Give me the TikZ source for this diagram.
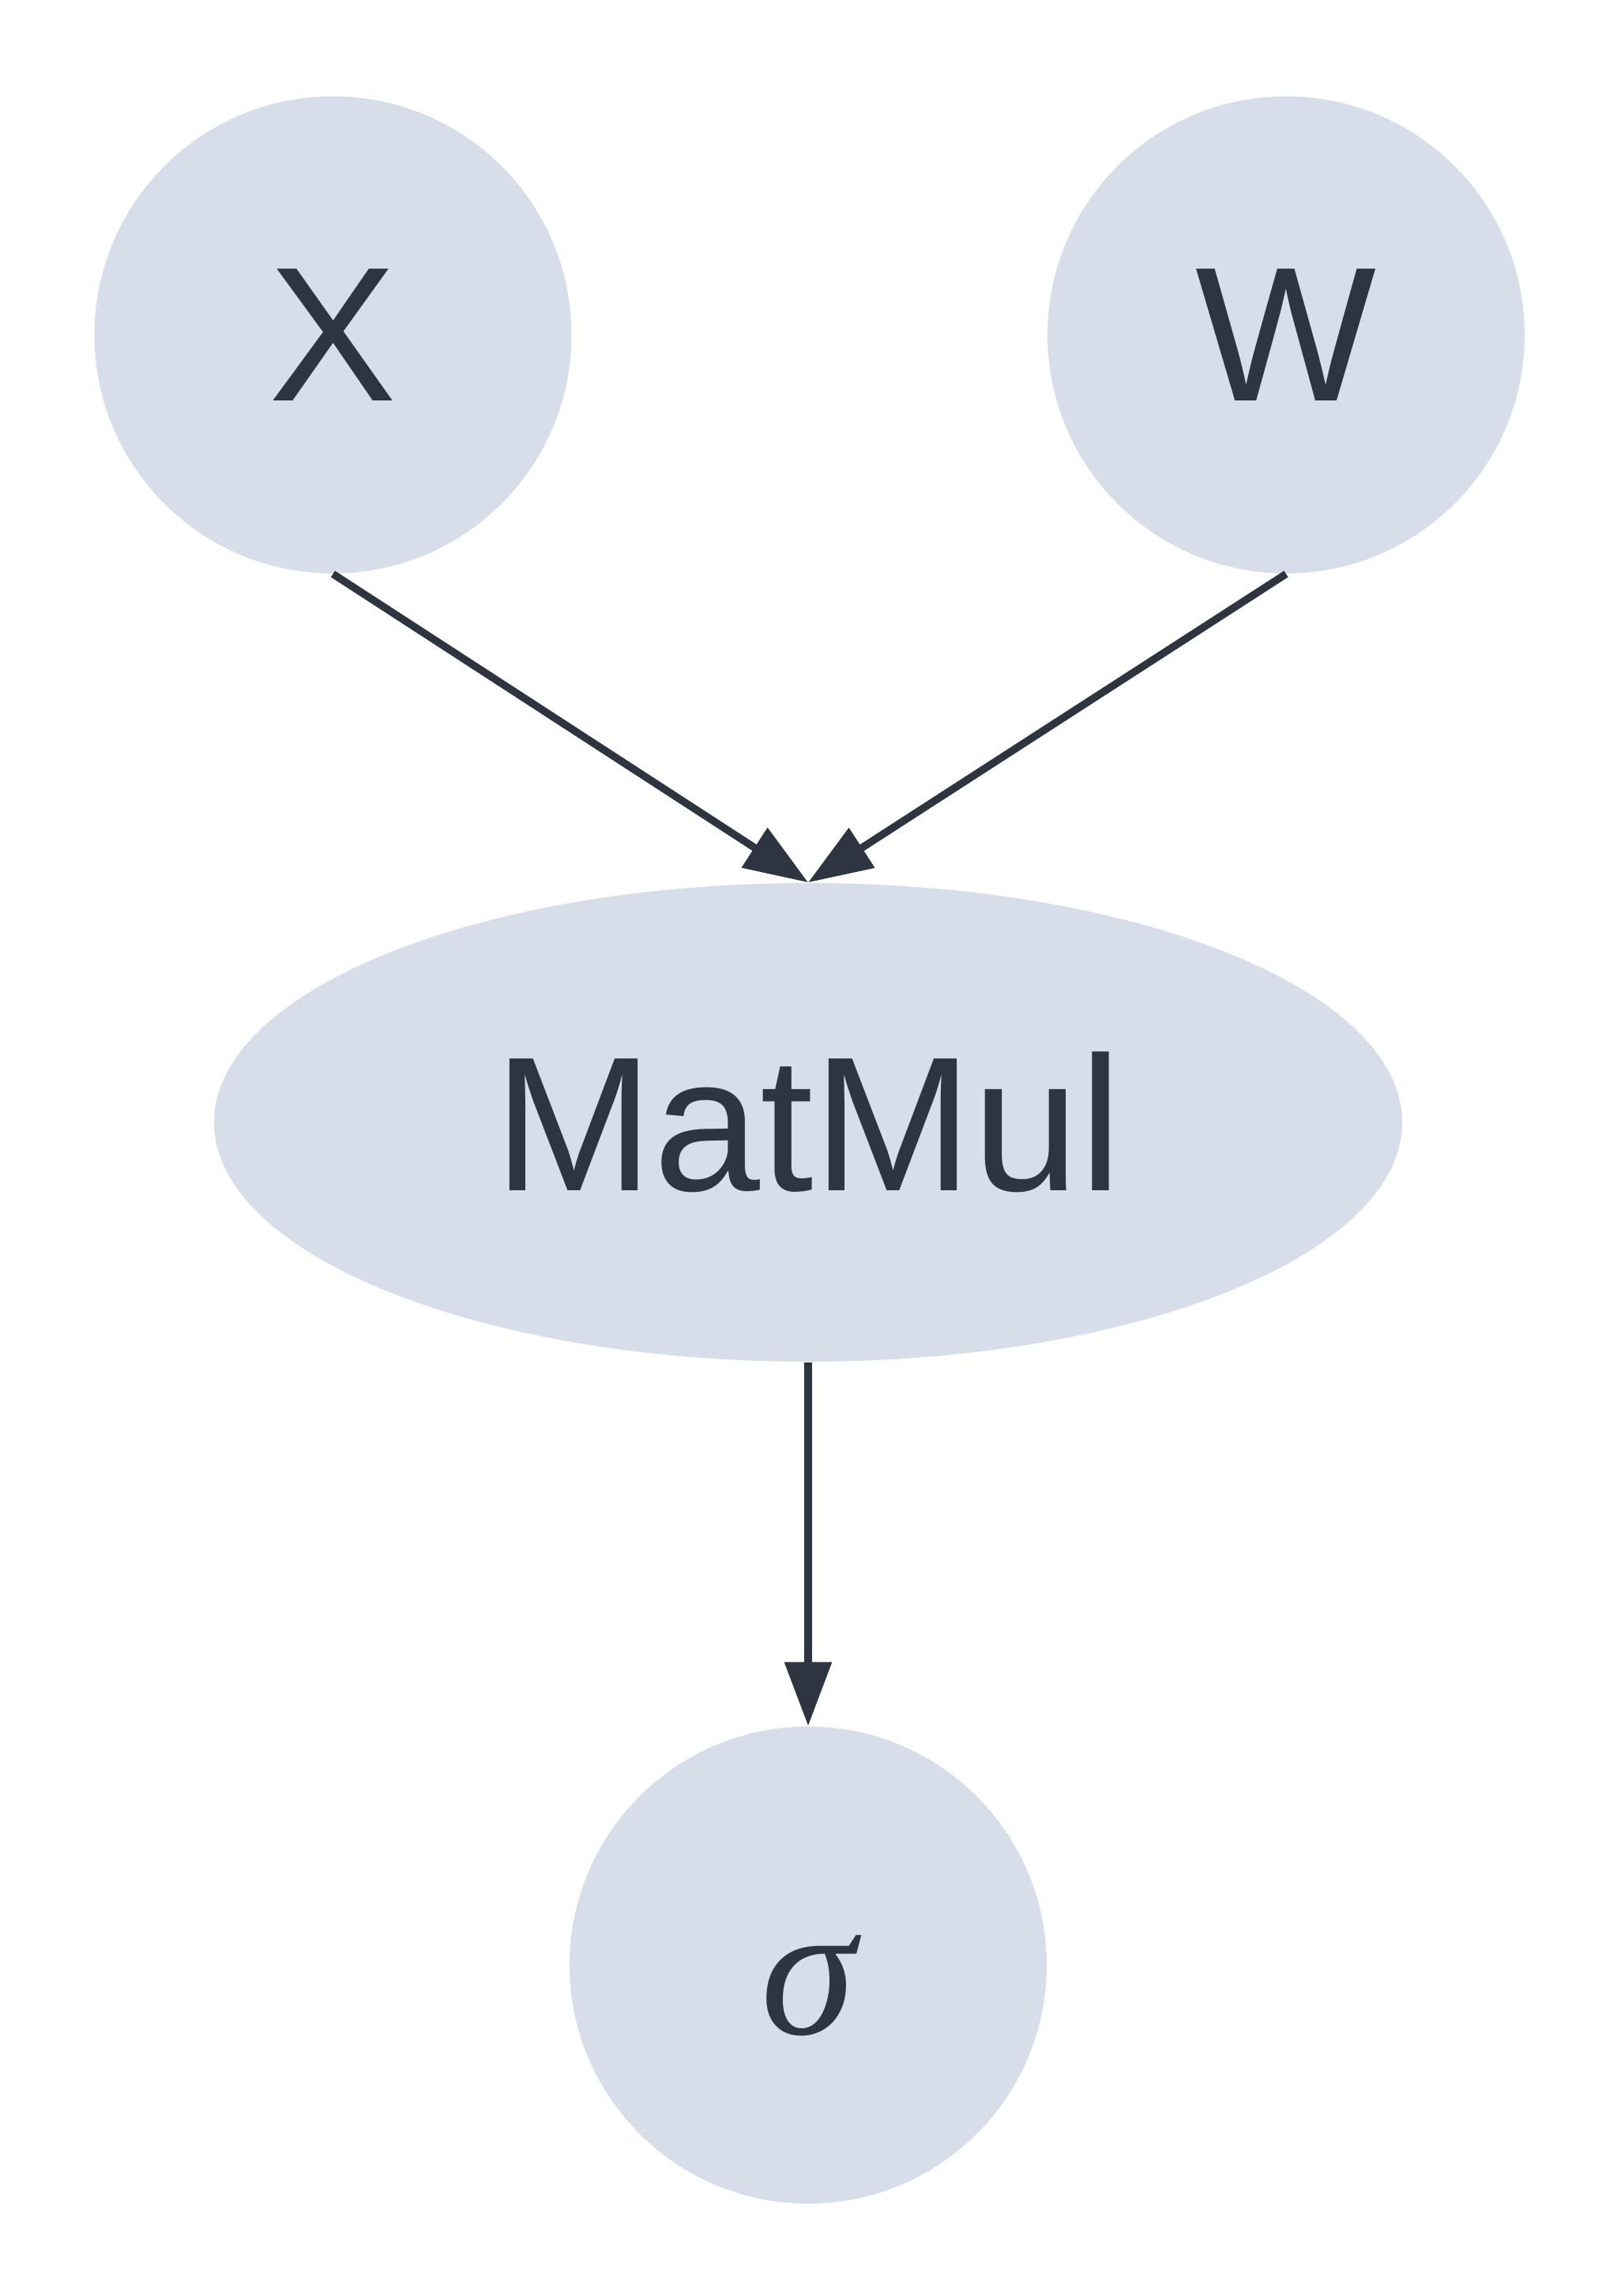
\documentclass[tikz,border=0pt]{standalone}
\usepackage{fontspec}
\setmainfont{Liberation Sans}
\newfontfamily\greekserif{Liberation Serif}
\usetikzlibrary{arrows.meta,shapes.geometric}
\definecolor{nodefill}{HTML}{D8DEE9}
\definecolor{ink}{HTML}{2E3440}
\begin{document}
\begin{tikzpicture}[
  base/.style={fill=nodefill, draw=none, inner sep=0pt, text=ink, font=\fontsize{69pt}{72pt}\selectfont},
  circnode/.style={base, circle, minimum size=6.04cm},
  ellnode/.style={base, ellipse, minimum width=15.04cm, minimum height=6.06cm},
  edge/.style={draw=ink, line width=0.095cm, -{Triangle[length=0.81cm,width=0.58cm]}}
]
\useasboundingbox (0,0) rectangle (20.51,-29.07);
\node[circnode] (x) at (4.215,-4.24) {X};
\node[circnode] (w) at (16.28,-4.24) {W};
\node[ellnode] (m) at (10.23,-14.21) {MatMul};
\node[circnode, text height=1.74cm, text depth=0pt] (s) at (10.23,-24.88) {\greekserif\itshape σ};
\draw[edge] (x.south) -- (m.north);
\draw[edge] (w.south) -- (m.north);
\draw[edge] (m.south) -- (s.north);
\end{tikzpicture}
\end{document}
